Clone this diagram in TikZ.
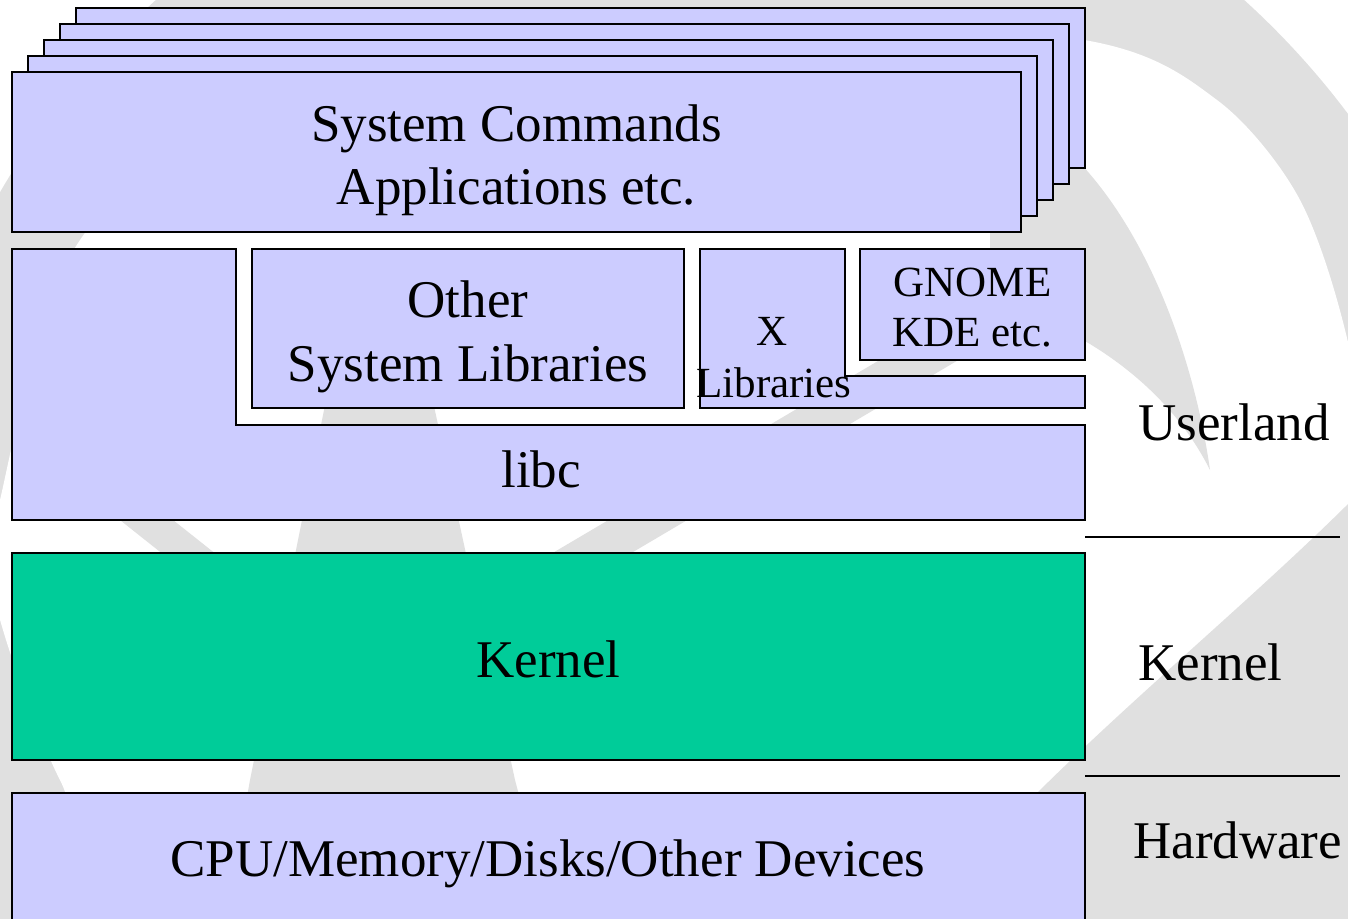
\documentclass[tikz,border=0pt]{standalone}
\usepackage{fontspec}
\setmainfont{Liberation Serif}
\definecolor{layerblue}{RGB}{204,204,255}
\definecolor{kerngreen}{RGB}{0,204,153}
\definecolor{wmark}{RGB}{224,224,224}

\begin{document}
\begin{tikzpicture}[x=1pt,y=-1pt,
    layer/.style={draw,line width=2pt,fill=layerblue},
    big/.style={font=\fontsize{53}{63}\selectfont,inner sep=0pt,anchor=base},
    small/.style={font=\fontsize{43}{52}\selectfont,inner sep=0pt,anchor=base},
    sep/.style={line width=2pt}]
\clip (0,0) rectangle (1348,918);
% watermark
\fill[wmark] (700,600) circle (810);
\fill[white] plot[smooth cycle] coordinates {(1084,40) (1217,100) (1300,200)
    (1350,351) (1390,600) (1250,950) (700,1000) (150,900) (60,780) (-5,600)
    (0,500) (80,240) (300,60) (700,12)};
\fill[wmark] (990,100) .. controls (1120,150) and (1190,330) .. (1210,470)
    .. controls (1170,390) and (1090,330) .. (990,300) -- cycle;
\fill[wmark] (1400,450) .. controls (1300,560) and (1150,680) .. (1030,800)
    -- (950,950) -- (1400,950) -- cycle;
\fill[wmark] (346,300) -- (411,300) -- (463,540) -- (515,780) -- (560,950)
    -- (220,950) -- (250,780) -- (298,540) -- cycle;
\draw[wmark,line width=33pt] (-80,340) -- (300,642);
\draw[wmark,line width=40pt] (1080,265) -- (470,625);

% commands and applications, stacked
\foreach \i in {4,3,2,1,0}
    \draw[layer] (12+16*\i,72-16*\i) rectangle ++(1009,160);
\node[big] (cmd) at (516.5,141) {System Commands};
\node[big] (app) at (516.5,204) {Applications etc.};

% libraries
\draw[layer] (12,249) -- (236,249) -- (236,425) -- (1085,425) -- (1085,520)
    -- (12,520) -- cycle;
\node[big] (libc) at (541,487) {libc};
\draw[layer] (252,249) rectangle (684,408);
\node[big] (oth) at (468,317) {Other};
\node[big] (syslib) at (468,381) {System Libraries};
\draw[layer] (700,249) -- (845,249) -- (845,376) -- (1085,376) -- (1085,408)
    -- (700,408) -- cycle;
\node[small] (xw) at (772.5,345) {X};
\node[small] (xlib) at (774,397) {Libraries};
\draw[layer] (860,249) rectangle (1085,360);
\node[small] (gnome) at (972.5,296) {GNOME};
\node[small] (kde) at (972.5,346) {KDE etc.};

% kernel and hardware
\draw[layer,fill=kerngreen] (12,553) rectangle (1085,760);
\node[big] (kern) at (548.5,677) {Kernel};
\draw[layer] (12,793) rectangle (1085,940);
\node[big] (dev) at (548,876) {CPU/Memory/Disks/Other Devices};

% levels on the right
\coordinate (s1) at (1085,537);
\coordinate (s2) at (1085,776);
\draw[sep] (s1) -- ++(255,0);
\draw[sep] (s2) -- ++(255,0);
\node[big,anchor=base west] (user) at (1138,440) {Userland};
\node[big,anchor=base west] (kernlvl) at (1138,680) {Kernel};
\node[big,anchor=base west] (hwlvl) at (1133,858) {Hardware};
\end{tikzpicture}
\end{document}
